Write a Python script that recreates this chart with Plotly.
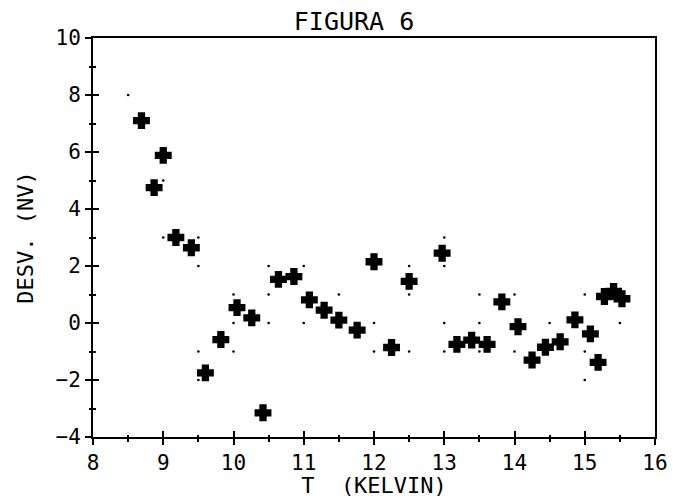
import plotly.graph_objects as go

# Data
T_KELVIN = [8.69, 8.87, 9.00, 9.18, 9.40, 9.60, 9.82, 10.05, 10.26, 10.42,
            10.64, 10.86, 11.08, 11.29, 11.50, 11.76, 12.00, 12.25, 12.50, 12.97,
            13.18, 13.39, 13.61, 13.82, 14.05, 14.25, 14.44, 14.65, 14.86, 15.08,
            15.19, 15.28, 15.41, 15.53]
DESV = [7.10, 4.75, 5.88, 3.00, 2.64, -1.75, -0.58, 0.54, 0.18, -3.15,
        1.53, 1.63, 0.81, 0.45, 0.10, -0.25, 2.15, -0.86, 1.46, 2.45,
        -0.75, -0.60, -0.75, 0.74, -0.13, -1.30, -0.85, -0.66, 0.11, -0.38,
        -1.38, 0.93, 1.11, 0.85]

# faint plotter grid dots visible on the picture
DOT_T = [8.5, 9.0, 9.0, 9.5, 9.5, 9.5, 9.5, 10.0, 10.0, 10.0, 10.5, 10.5, 10.5,
         11.0, 11.0, 11.5, 12.0, 12.0, 12.5, 12.5, 12.5, 13.0, 13.0, 13.0, 13.0,
         13.5, 13.5, 13.5, 14.0, 14.0, 14.5, 15.0, 15.0, 15.0, 15.5]
DOT_D = [8, 5, 3, 3, 2, -1, -2, 1, 0, -1, 2, 1, 0,
         2, 0, 1, 0, -1, 2, 1, -1, 3, 2, 0, -1,
         1, 0, -1, 1, -1, 0, 1, -1, -2, 0]

X_RANGE = [8, 16]
Y_RANGE = [-4, 10]
X_TICKS = [8, 9, 10, 11, 12, 13, 14, 15, 16]
Y_TICKS = [-4, -2, 0, 2, 4, 6, 8, 10]

FONT = "DejaVu Sans Mono"

fig = go.Figure()
fig.add_trace(go.Scatter(
    x=DOT_T, y=DOT_D, mode="markers", xaxis="x2", yaxis="y2",
    marker=dict(symbol="circle", size=2.6, color="black"),
    hoverinfo="skip", showlegend=False))
fig.add_trace(go.Scatter(
    x=T_KELVIN, y=DESV, mode="markers",
    marker=dict(symbol="cross", size=12, color="black",
                line=dict(color="black", width=2.5)),
    showlegend=False))

common_x = dict(range=X_RANGE, tickvals=X_TICKS, ticklen=6, tickwidth=1.5,
                tickcolor="black", showgrid=False, zeroline=False,
                automargin=False)
common_y = dict(range=Y_RANGE, tickvals=Y_TICKS, ticklen=6, tickwidth=1.5,
                tickcolor="black", showgrid=False, zeroline=False,
                automargin=False)

fig.update_layout(
    width=673, height=498,
    margin=dict(l=93, r=18, t=38, b=61, autoexpand=False),
    paper_bgcolor="white", plot_bgcolor="white",
    font=dict(family=FONT, color="black"),
    title=dict(text="FIGURA 6", x=354 / 673, xref="container", xanchor="center",
               y=1 - 21 / 498, yref="container", yanchor="middle",
               font=dict(family=FONT, size=25, color="black")),
    xaxis=dict(**common_x, ticks="outside",
               showline=True, linewidth=2, linecolor="black", mirror=True,
               tickfont=dict(family=FONT, size=21),
               minor=dict(dtick=0.5, ticks="outside", ticklen=2.5, tickwidth=2,
                          tickcolor="black"),
               title=dict(text="T  (KELVIN)", standoff=4,
                          font=dict(family=FONT, size=22))),
    yaxis=dict(**common_y, ticks="outside",
               showline=True, linewidth=2, linecolor="black", mirror=True,
               tickfont=dict(family=FONT, size=21),
               minor=dict(dtick=1, ticks="outside", ticklen=2.5, tickwidth=2,
                          tickcolor="black"),
               title=dict(text="DESV. (NV)", standoff=16,
                          font=dict(family=FONT, size=22))),
    xaxis2=dict(**common_x, ticks="inside", overlaying="x", anchor="y2",
                side="bottom", showline=False, showticklabels=False,
                minor=dict(dtick=0.5, ticks="inside", ticklen=2.5, tickwidth=2,
                           tickcolor="black")),
    yaxis2=dict(**common_y, ticks="inside", overlaying="y", anchor="x2",
                side="left", showline=False, showticklabels=False,
                minor=dict(dtick=1, ticks="inside", ticklen=2.5, tickwidth=2,
                           tickcolor="black")),
)

fig.write_html("out.html",
               config={"displayModeBar": False},
               post_script="document.body.style.margin='0px';"
                           "document.body.style.overflow='hidden';")
